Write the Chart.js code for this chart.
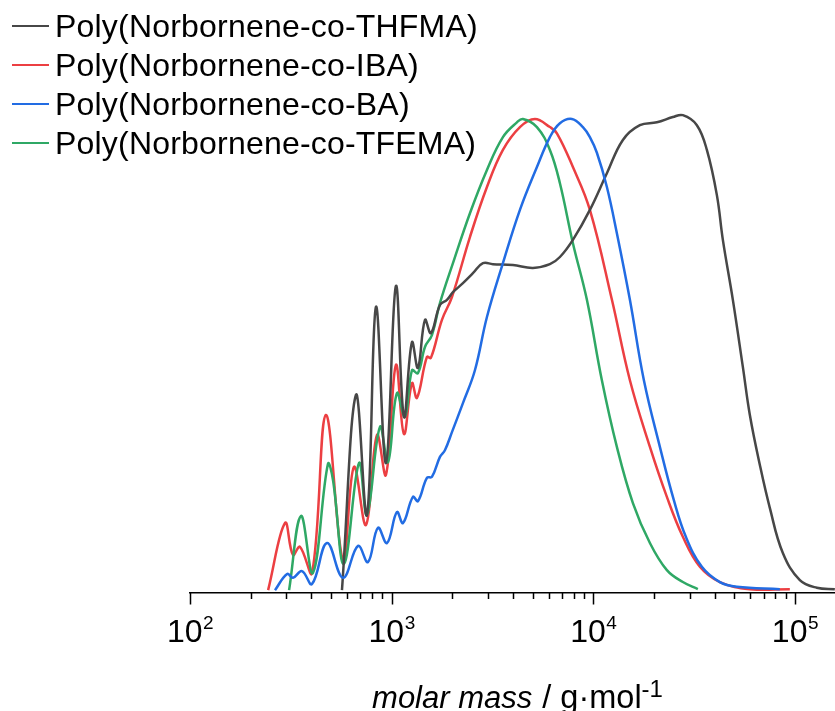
<!DOCTYPE html>
<html>
<head>
<meta charset="utf-8">
<title>Molar mass distributions</title>
<script src="https://cdn.jsdelivr.net/npm/chart.js@4.4.1/dist/chart.umd.min.js"></script>
<style>
    html, body { margin: 0; padding: 0; background: #fff; }
    #wrap { position: relative; width: 835px; height: 711px; overflow: hidden; }
    #legend {
        position: absolute; left: 12px; top: 6.5px; z-index: 2;
        font-family: "Liberation Sans", Arial, sans-serif; font-size: 32px; letter-spacing: 0.2px; color: #000;
    }
    .row { display: flex; align-items: center; height: 39px; white-space: nowrap; }
    .swatch { width: 37px; height: 2px; margin-right: 6px; flex: none; }
</style>
</head>
<body>
<div id="wrap">
    <canvas id="chart" width="835" height="711"></canvas>
    <div id="legend"></div>
</div>
<script>
// series labels and colours
const seriesLabels = [
    'Poly(Norbornene-co-THFMA)',
    'Poly(Norbornene-co-IBA)',
    'Poly(Norbornene-co-BA)',
    'Poly(Norbornene-co-TFEMA)'
];
const seriesColors = ['#474747', '#ec3f42', '#226ce3', '#2fa865'];

// molar mass (g/mol) and normalised detector signal
const thfmaMass = [567, 665, 754, 836, 937, 1050, 1151, 1261, 1350, 1463, 1566, 1736, 1880, 2014, 2257,
    2530, 2836, 3178, 3994, 5019, 6093, 6831, 7923, 9619, 11680, 14020, 17020, 20680, 24810, 27810,
    32630, 36580, 41010, 43910, 49220, 55170, 59760, 66990, 75060, 87100, 105760, 128400, 157700];
const thfmaSignal = [0.006, 0.416, 0.164, 0.601, 0.273, 0.645, 0.370, 0.527, 0.473, 0.574, 0.546, 0.605, 0.616, 0.632, 0.651,
    0.672, 0.693, 0.691, 0.689, 0.683, 0.691, 0.706, 0.742, 0.805, 0.882, 0.952, 0.983, 0.989, 1.000, 1.004,
    0.983, 0.931, 0.836, 0.742, 0.616, 0.475, 0.374, 0.269, 0.179, 0.084, 0.027, 0.011, 0.008];

const ibaMass = [244, 296, 324, 351, 403, 472, 574, 650, 746, 846, 937, 1050, 1151, 1261, 1335,
    1496, 1566, 1776, 1991, 2445, 2969, 3563, 4327, 5135, 6093, 6601, 7923, 9619, 12370,
    15190, 19090, 23170, 27810, 33770, 42430, 59760, 94340];
const ibaSignal = [0.006, 0.147, 0.080, 0.097, 0.042, 0.374, 0.069, 0.265, 0.143, 0.332, 0.248, 0.479, 0.334, 0.441, 0.410,
    0.496, 0.494, 0.574, 0.622, 0.748, 0.853, 0.931, 0.979, 0.996, 0.979, 0.966, 0.895, 0.805, 0.616,
    0.447, 0.307, 0.202, 0.118, 0.055, 0.023, 0.008, 0.008];

const baMass = [264, 303, 324, 359, 403, 478, 574, 681, 763, 855, 948, 1062, 1138, 1275, 1350,
    1496, 1584, 1736, 1837, 1991, 2257, 2588, 2969, 3563, 4327, 5254, 6093, 6831, 7833, 8882,
    9619, 10420, 11680, 13090, 15190, 17820, 21390, 25090, 28780, 34540, 42430, 51520, 84180];
const baSignal = [0.006, 0.040, 0.032, 0.046, 0.019, 0.105, 0.032, 0.099, 0.065, 0.137, 0.105, 0.170, 0.147, 0.202, 0.193,
    0.242, 0.244, 0.286, 0.300, 0.338, 0.399, 0.468, 0.580, 0.693, 0.805, 0.895, 0.958, 0.987, 0.996, 0.979,
    0.958, 0.925, 0.853, 0.756, 0.616, 0.447, 0.307, 0.195, 0.118, 0.055, 0.023, 0.013, 0.008];

const tfemaMass = [310, 355, 407, 483, 512, 580, 689, 754, 875, 959, 1062, 1164, 1261, 1350, 1463,
    1584, 1736, 2014, 2445, 2969, 3563, 4181, 4477, 5254, 6093, 6831, 7923, 9296, 11030, 13090,
    15720, 19090, 23170, 27810, 33000];
const tfemaSignal = [0.006, 0.162, 0.042, 0.271, 0.237, 0.061, 0.273, 0.164, 0.349, 0.275, 0.420, 0.370, 0.468, 0.462, 0.517,
    0.542, 0.609, 0.693, 0.798, 0.889, 0.958, 0.989, 0.996, 0.979, 0.931, 0.861, 0.735, 0.616, 0.447, 0.307,
    0.189, 0.105, 0.048, 0.023, 0.008];

// x axis ticks
const majorTicks = [1e2, 1e3, 1e4, 1e5];
const tickExponents = ['2', '3', '4', '5'];
const minorSteps = [2, 3, 4, 5, 6, 7, 8, 9];
const axisTitle = ['molar mass', ' / g\u00b7mol', '-1'];

const FONT = '"Liberation Sans", Arial, sans-serif';

const toPoints = (mass, signal) => mass.map((m, i) => ({ x: m, y: signal[i] }));

// tick marks, superscript labels and the mixed-style axis title
const axisDecor = {
    id: 'axisDecor',
    afterDraw(chart) {
        const { ctx, chartArea } = chart;
        const xScale = chart.scales.x;
        const y0 = chartArea.bottom;

        ctx.save();
        ctx.strokeStyle = '#000';
        ctx.lineWidth = 1.5;
        ctx.beginPath();
        majorTicks.forEach(base => {
            minorSteps.forEach(step => {
                const v = base * step;
                if (v > xScale.max) return;
                const px = Math.round(xScale.getPixelForValue(v)) + 0.5;
                ctx.moveTo(px, y0);
                ctx.lineTo(px, y0 + 6);
            });
            const px = Math.round(xScale.getPixelForValue(base)) + 0.5;
            ctx.moveTo(px, y0);
            ctx.lineTo(px, y0 + 11.5);
        });
        ctx.stroke();

        ctx.fillStyle = '#000';
        ctx.textBaseline = 'alphabetic';
        majorTicks.forEach((v, i) => {
            const px = xScale.getPixelForValue(v);
            ctx.font = '32px ' + FONT;
            const wBase = ctx.measureText('10').width;
            ctx.font = '19px ' + FONT;
            const wExp = ctx.measureText(tickExponents[i]).width;
            const start = px - (wBase + wExp) / 2;
            ctx.font = '32px ' + FONT;
            ctx.fillText('10', start, 642);
            ctx.font = '19px ' + FONT;
            ctx.fillText(tickExponents[i], start + wBase + 0.5, 629);
        });

        const fonts = ['italic 31px ' + FONT, '32.5px ' + FONT, '24px ' + FONT];
        const widths = axisTitle.map((t, i) => { ctx.font = fonts[i]; return ctx.measureText(t).width; });
        let x = 517 - (widths[0] + widths[1] + widths[2]) / 2;
        const baselines = [708, 708, 697];
        axisTitle.forEach((t, i) => {
            ctx.font = fonts[i];
            ctx.fillText(t, x, baselines[i]);
            x += widths[i] + (i === 0 ? 1 : 0);
        });
        ctx.restore();
    }
};

const seriesData = [
    toPoints(thfmaMass, thfmaSignal),
    toPoints(ibaMass, ibaSignal),
    toPoints(baMass, baSignal),
    toPoints(tfemaMass, tfemaSignal)
];
const drawOrder = [1, 3, 0, 2];

const datasets = seriesData.map((data, i) => ({
    label: seriesLabels[i],
    data: data,
    borderColor: seriesColors[i],
    backgroundColor: seriesColors[i],
    borderWidth: 2.5,
    pointRadius: 0,
    fill: false,
    tension: 0.4,
    order: drawOrder[i]
}));

new Chart(document.getElementById('chart').getContext('2d'), {
    type: 'line',
    data: { datasets: datasets },
    options: {
        responsive: false,
        animation: false,
        events: [],
        layout: { padding: { left: 190, right: 0, top: 0, bottom: 118 } },
        plugins: {
            legend: { display: false },
            tooltip: { enabled: false }
        },
        scales: {
            x: {
                type: 'logarithmic',
                min: 100,
                max: 158000,
                grid: { display: false, drawTicks: false },
                border: { display: true, color: '#000', width: 1.5 },
                ticks: { display: false }
            },
            y: { display: false, min: 0, max: 1.246 }
        }
    },
    plugins: [axisDecor]
});

// legend as html, same order as the datasets
const legendBox = document.getElementById('legend');
seriesLabels.forEach((label, i) => {
    const row = document.createElement('div');
    row.className = 'row';
    const swatch = document.createElement('span');
    swatch.className = 'swatch';
    swatch.style.background = seriesColors[i];
    const text = document.createElement('span');
    text.textContent = label;
    row.appendChild(swatch);
    row.appendChild(text);
    legendBox.appendChild(row);
});
</script>
</body>
</html>
